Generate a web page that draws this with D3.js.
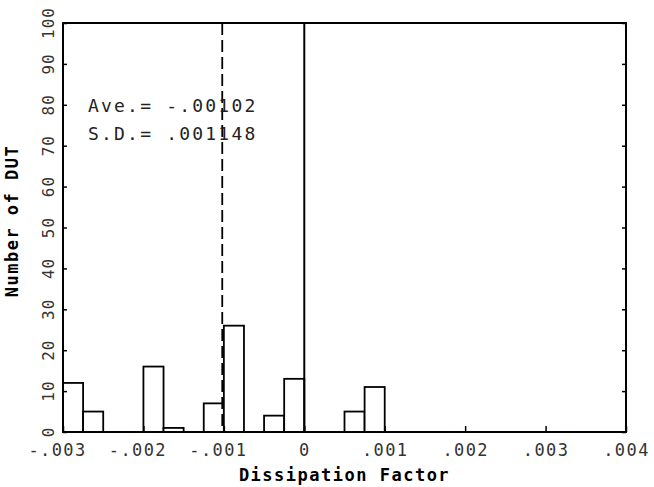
<!DOCTYPE html>
<html>
<head>
<meta charset="utf-8">
<script src="https://cdn.jsdelivr.net/npm/d3@7"></script>
<style>
    body { margin: 0; background: #fff; }
    svg { display: block; }
    .domain { display: none; }
    text { font-family: "DejaVu Sans Mono", monospace; }
</style>
</head>
<body>
<div id="chart"></div>
<script>
// histogram bins (left edge, count)
const binStarts = [-0.003, -0.00275, -0.002, -0.00175, -0.00125, -0.001, -0.0005, -0.00025, 0.0005, 0.00075];
const counts = [12, 5, 16, 1, 7, 26, 4, 13, 5, 11];
const binWidth = 0.00025;

const xTicks = [-0.003, -0.002, -0.001, 0, 0.001, 0.002, 0.003, 0.004];
const xTickLabels = ["-.003", "-.002", "-.001", "0", ".001", ".002", ".003", ".004"];
const yTicks = [0, 10, 20, 30, 40, 50, 60, 70, 80, 90, 100];

const mean = -0.00102;
const annotations = ["Ave.= -.00102", "S.D.= .001148"];

const w = 654;
const h = 487;
const margin = { top: 23, right: 28, bottom: 55, left: 63 };

const xScale = d3.scaleLinear()
    .domain([-0.003, 0.004])
    .range([margin.left, w - margin.right]);

const yScale = d3.scaleLinear()
    .domain([0, 100])
    .range([h - margin.bottom, margin.top]);

const svg = d3.select("#chart")
    .append("svg")
    .attr("width", w)
    .attr("height", h);

const bars = binStarts.map((s, i) => ({ start: s, count: counts[i] }));

svg.selectAll("rect.bar")
    .data(bars)
    .enter()
    .append("rect")
    .attr("class", "bar")
    .attr("x", (d) => xScale(d.start))
    .attr("width", (d) => xScale(d.start + binWidth) - xScale(d.start))
    .attr("y", (d) => yScale(d.count))
    .attr("height", (d) => yScale(0) - yScale(d.count))
    .attr("fill", "#fff")
    .attr("stroke", "#000")
    .attr("stroke-width", 1.8);

// zero line
svg.append("line")
    .attr("x1", xScale(0)).attr("x2", xScale(0))
    .attr("y1", yScale(100)).attr("y2", yScale(0))
    .attr("stroke", "#000")
    .attr("stroke-width", 2);

// mean line
svg.append("line")
    .attr("x1", xScale(mean)).attr("x2", xScale(mean))
    .attr("y1", yScale(100)).attr("y2", yScale(0))
    .attr("stroke", "#000")
    .attr("stroke-width", 1.8)
    .attr("stroke-dasharray", "12,5");

// frame
svg.append("rect")
    .attr("x", xScale(-0.003))
    .attr("y", yScale(100))
    .attr("width", xScale(0.004) - xScale(-0.003))
    .attr("height", yScale(0) - yScale(100))
    .attr("fill", "none")
    .attr("stroke", "#000")
    .attr("stroke-width", 2);

// x axis, ticks pointing inward
const xAxis = d3.axisBottom(xScale)
    .tickValues(xTicks)
    .tickSize(-6)
    .tickPadding(12)
    .tickFormat((d, i) => xTickLabels[i]);

svg.append("g")
    .attr("transform", `translate(0,${yScale(0)})`)
    .call(xAxis)
    .call((g) => g.selectAll(".tick line").attr("stroke-width", 1.5))
    .call((g) => g.selectAll("text")
        .attr("font-size", 17)
        .attr("letter-spacing", 1.4)
        .attr("fill", "#333")
        .attr("dx", (d) => (d < 0 ? -6 : 0))
        .attr("font-family", "DejaVu Sans Mono"));

// y axis, ticks inward on both sides
const yAxis = d3.axisLeft(yScale).tickValues(yTicks).tickSize(-4).tickFormat("");
svg.append("g")
    .attr("transform", `translate(${xScale(-0.003)},0)`)
    .call(yAxis)
    .call((g) => g.selectAll(".tick line").attr("stroke-width", 1.5));

svg.append("g")
    .attr("transform", `translate(${xScale(0.004)},0)`)
    .call(d3.axisRight(yScale).tickValues(yTicks).tickSize(-4).tickFormat(""))
    .call((g) => g.selectAll(".tick line").attr("stroke-width", 1.5));

// rotated y tick labels
svg.selectAll("text.ylab")
    .data(yTicks)
    .enter()
    .append("text")
    .attr("class", "ylab")
    .attr("transform", (d) => `translate(54,${yScale(d)}) rotate(-90)`)
    .attr("text-anchor", "middle")
    .attr("font-size", 16)
    .attr("letter-spacing", 1)
    .attr("fill", "#333")
    .text((d) => d);

// axis titles
svg.append("text")
    .attr("x", (xScale(-0.003) + xScale(0.004)) / 2)
    .attr("y", 481)
    .attr("text-anchor", "middle")
    .attr("font-size", 17)
    .attr("font-weight", "bold")
    .attr("letter-spacing", 1.5)
    .text("Dissipation Factor");

svg.append("text")
    .attr("transform", `translate(18,221) rotate(-90)`)
    .attr("text-anchor", "middle")
    .attr("font-size", 17)
    .attr("font-weight", "bold")
    .attr("letter-spacing", 1.5)
    .text("Number of DUT");

// statistics
svg.selectAll("text.stat")
    .data(annotations)
    .enter()
    .append("text")
    .attr("class", "stat")
    .attr("x", 88)
    .attr("y", (d, i) => 112 + i * 28)
    .attr("font-size", 18)
    .attr("letter-spacing", 2.2)
    .attr("fill", "#222")
    .text((d) => d);
</script>
</body>
</html>
